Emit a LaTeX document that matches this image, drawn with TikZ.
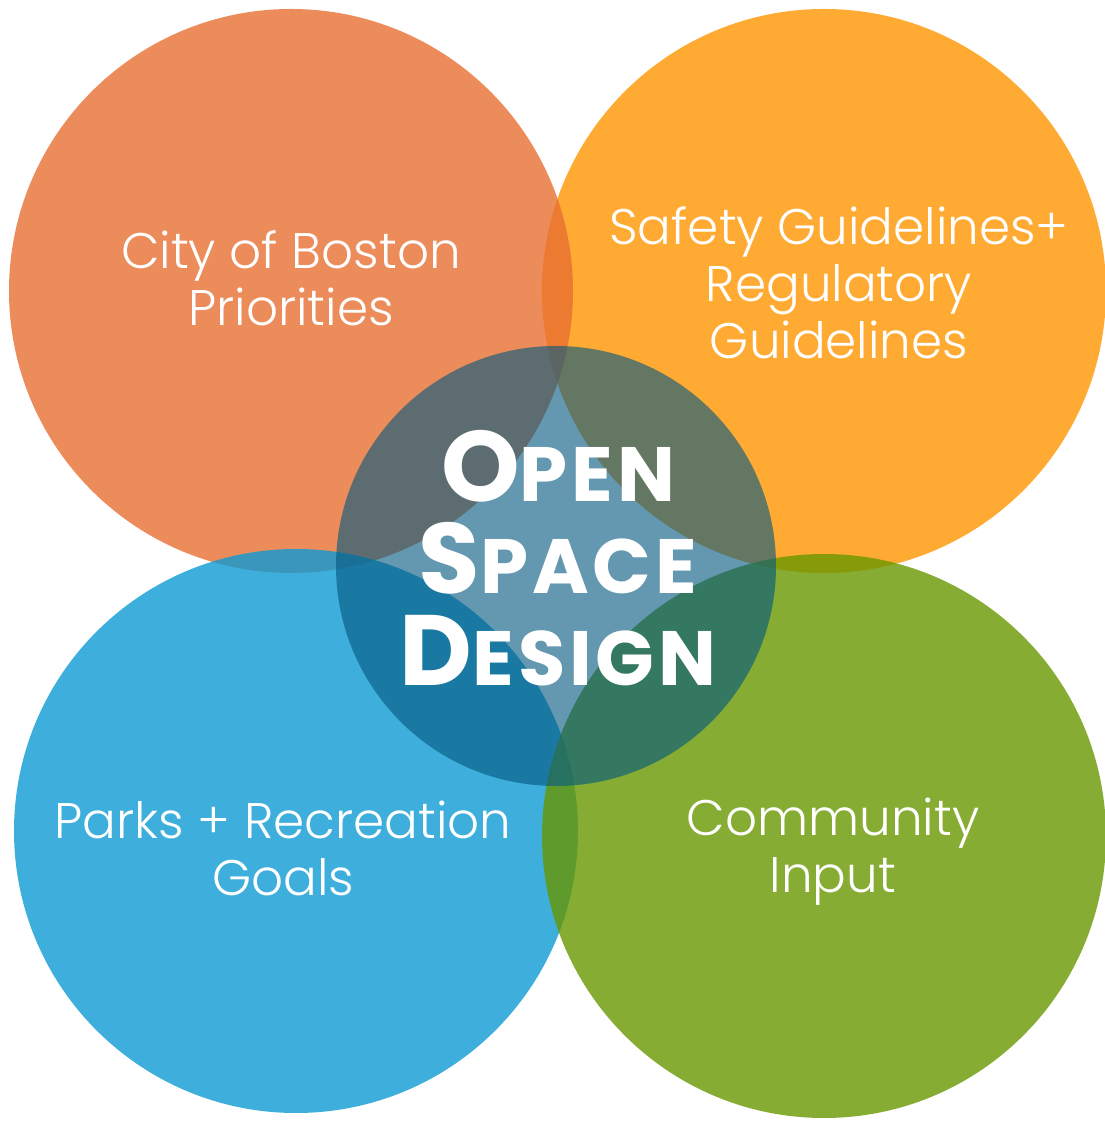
\documentclass[tikz,border=0pt]{standalone}
\usepackage{fontspec}
\setmainfont{Poppins}
\newfontfamily\thinfont{Poppins Light}
\definecolor{bostonorange}{RGB}{231,111,49}
\definecolor{safetyyellow}{RGB}{255,149,0}
\definecolor{parksblue}{RGB}{14,155,212}
\definecolor{communitygreen}{RGB}{104,151,0}
\definecolor{designteal}{RGB}{5,89,128}
\newcommand{\firstletter}[1]{{\fontsize{100}{92}\selectfont #1}}

\begin{document}
\begin{tikzpicture}[x=1pt, y=1pt,
    bigcircle/.style={circle, minimum size=564pt, inner sep=0pt, fill opacity=0.8},
    core/.style={circle, minimum size=440pt, inner sep=0pt, fill=designteal, fill opacity=0.62},
    areatext/.style={text=white, align=center, font=\thinfont\fontsize{50}{57}\selectfont},
    titletext/.style={text=white, align=center, font=\bfseries\addfontfeatures{LetterSpace=5}\fontsize{77}{92}\selectfont}
]
    \useasboundingbox (0,0) rectangle (1105,1124);

    % the four fields
    \node[bigcircle, fill=safetyyellow] (safety) at (824,833) {};
    \node[bigcircle, fill=bostonorange] (boston) at (291,833) {};
    \node[bigcircle, fill=parksblue] (parks) at (296,293) {};
    \node[bigcircle, fill=communitygreen] (community) at (824,288) {};
    \node[core] (design) at (556,558) {};

    % labels
    \node[areatext] (bostontext) at (291,846) {City of Boston\\Priorities};
    \node[areatext] (safetytext) at (839,841) {Safety Guidelines+\\Regulatory\\Guidelines};
    \node[areatext] (parkstext) at (283,276) {Parks + Recreation\\Goals};
    \node[areatext] (communitytext) at (833,272) {Community\\Input};
    \node[titletext] (designtext) at (558,566) {\firstletter{O}PEN\\\firstletter{S}PACE\\\firstletter{D}ESIGN};
\end{tikzpicture}
\end{document}
